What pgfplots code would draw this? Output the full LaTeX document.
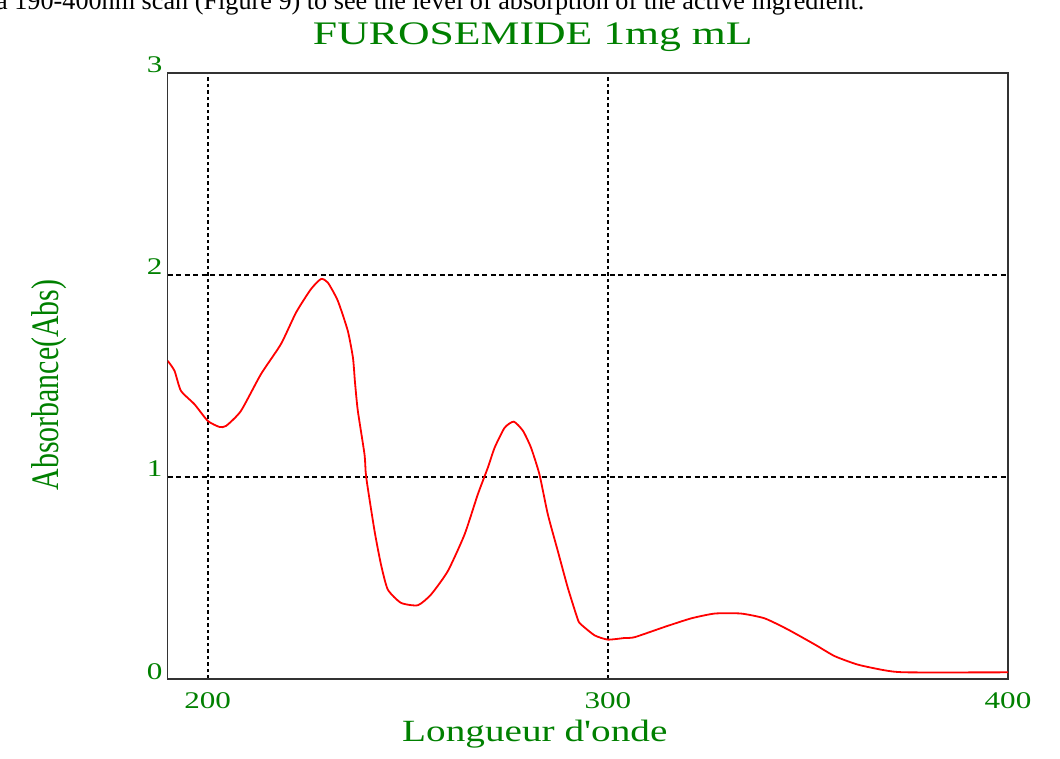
\documentclass[border=0pt]{standalone}
\usepackage{pgfplots}
\pgfplotsset{compat=1.18}
\usepackage{fontspec}
\setmainfont{Liberation Serif}
\newfontfamily\plainserif{Liberation Serif}
\definecolor{chgreen}{RGB}{0,128,0}
\newcommand{\sx}[1]{\scalebox{1.3}[1]{#1}}
\begin{document}
\begin{tikzpicture}
\path[use as bounding box] (0,0) rectangle (1060bp,759bp);
\node[anchor=base west, inner sep=0pt, font=\fontsize{26.3}{30}\selectfont, text=black] at (-4bp,749bp)
  {a 190-400nm scan (Figure 9) to see the level of absorption of the active ingredient.};
\begin{axis}[
  at={(167.7bp,80bp)}, anchor=south west,
  scale only axis, width=840.3bp, height=606bp,
  xmin=190, xmax=400, ymin=0, ymax=3,
  xtick={200,300,400}, ytick={0,1,2,3},
  xticklabels={\sx{200},\sx{300},\sx{400}},
  yticklabels={\sx{0},\sx{1},\sx{2},\sx{3}},
  axis line style={line width=1.5bp, black!80},
  tick style={black, line width=0.8bp},
  major tick length=4bp,
  tick align=inside,
  xtick pos=bottom, ytick pos=left,
  xmajorgrids, ymajorgrids,
  x grid style={black, line width=1.6bp, dash pattern=on 3.5bp off 3bp},
  y grid style={black, line width=1.4bp, dash pattern=on 5bp off 3.5bp},
  tick label style={font=\fontsize{24}{26}\selectfont, text=chgreen},
  xticklabel style={anchor=north, inner sep=0pt, yshift=-13bp},
  yticklabel style={anchor=base east, inner sep=0pt, xshift=-5bp},
  title={\scalebox{1.33}[1]{FUROSEMIDE 1mg mL}},
  title style={font=\fontsize{33}{36}\selectfont, text=chgreen, inner sep=0pt,
    at={([xshift=-55bp,yshift=23bp]rel axis cs:0.5,1)}, anchor=base},
  xlabel={\scalebox{1.27}[1]{\plainserif Longueur d'onde}},
  xlabel style={font=\fontsize{31}{34}\selectfont, text=chgreen, inner sep=0pt,
    at={([xshift=-53bp,yshift=-62.7bp]rel axis cs:0.5,0)}, anchor=base},
  ylabel={\scalebox{1}[1.3]{Absorbance(Abs)}},
  ylabel style={font=\fontsize{30}{33}\selectfont, text=chgreen, inner sep=0pt,
    at={([xshift=-118.7bp,yshift=-9bp]rel axis cs:0,0.5)}, anchor=center},
]
\addplot[red, line width=1.8bp, mark=none, smooth, tension=0.35] coordinates {
(190,1.575) (191.7,1.526) (193.3,1.427) (196.7,1.36) (200,1.278) (202.9,1.248)
(204.6,1.253) (208.3,1.327) (213.3,1.509) (218.3,1.658) (222.1,1.815) (225.8,1.93)
(228.3,1.98) (230,1.963) (232.5,1.873) (235,1.724) (236.3,1.59) (236.8,1.47)
(237.5,1.33) (239.2,1.11) (239.6,1.0) (241.7,0.732) (243.3,0.567) (245,0.443)
(248.3,0.377) (252.5,0.365) (255.8,0.418) (260,0.534) (264.2,0.716) (267.5,0.914)
(270,1.046) (271.7,1.145) (274.2,1.244) (276.5,1.274) (278.8,1.228) (280.8,1.145)
(282.9,1.013) (285,0.815) (287.5,0.633) (290,0.451) (292.5,0.294) (293.3,0.27)
(296.7,0.216) (300,0.195) (304.2,0.203) (306.7,0.207) (314.2,0.258) (320.8,0.3)
(326.7,0.324) (333.3,0.324) (339.2,0.3) (345,0.245) (351.7,0.171) (356.7,0.113)
(362.5,0.071) (369.2,0.043) (374.6,0.033) (400,0.033)
};
\end{axis}
\end{tikzpicture}
\end{document}
